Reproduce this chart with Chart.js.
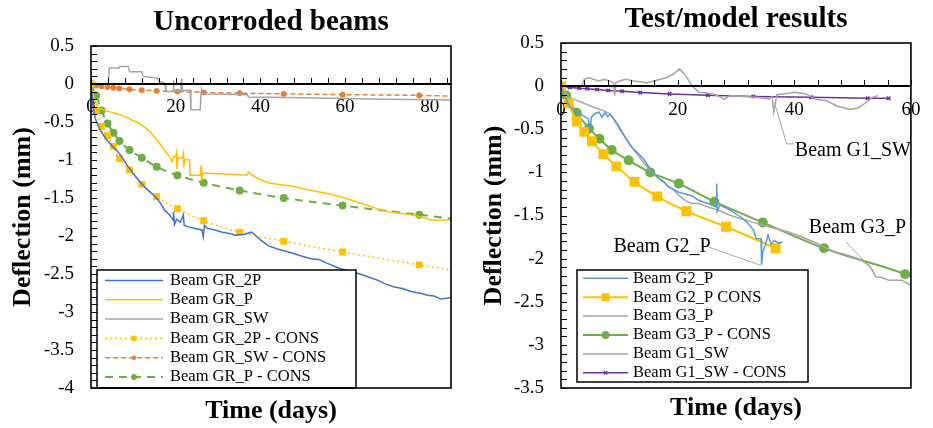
<!DOCTYPE html>
<html>
<head>
<meta charset="utf-8">
<script src="https://cdn.jsdelivr.net/npm/chart.js@4.4.1/dist/chart.umd.min.js"></script>
<style>
  html, body { margin: 0; padding: 0; background: #fff; }
  #wrap { position: relative; width: 933px; height: 428px; }
  canvas { position: absolute; top: 0; }
  #left { left: 0; }
  #right { left: 466px; }
  .tk { position: absolute; background: #000; z-index: 3; pointer-events: none; }
</style>
</head>
<body>
<div id="wrap">
  <canvas id="left" width="466" height="428"></canvas>
  <canvas id="right" width="467" height="428"></canvas>
</div>
<script>
// ---- left panel: uncorroded beams ----
const gr2pDays = [0, 0.5, 1, 2.1, 3.5, 5.2, 6.5, 7.5, 8.8, 10.3, 11.9, 13.5, 15.1, 16.3, 17.4, 18.5, 19.4, 19.5, 19.7, 20.2, 21.1, 21.8, 22, 23, 24.5, 26.2, 26.5, 26.8, 27.5, 29.3, 31, 33, 34, 36, 37.9, 39, 40, 41.9, 44, 46, 47.9, 50, 52, 53.8, 55.8, 58.9, 61, 62.9, 65, 67.6, 69.5, 71.6, 73.5, 75.5, 77.5, 79.5, 81, 82.6, 84, 85];
const gr2pDefl = [0, -0.3, -0.45, -0.6, -0.72, -0.83, -0.9, -0.98, -1.09, -1.2, -1.31, -1.4, -1.48, -1.56, -1.66, -1.72, -1.79, -1.68, -1.85, -1.78, -1.82, -1.72, -1.86, -1.88, -1.9, -1.92, -2.01, -1.86, -1.9, -1.92, -1.95, -1.97, -1.99, -1.98, -1.95, -2.0, -2.05, -2.13, -2.17, -2.2, -2.23, -2.27, -2.3, -2.31, -2.36, -2.43, -2.46, -2.49, -2.53, -2.58, -2.63, -2.67, -2.69, -2.73, -2.75, -2.78, -2.79, -2.83, -2.82, -2.81];

const grpDays = [0, 0.3, 1, 1.7, 3, 4, 5.5, 7.2, 8.5, 9.5, 10.8, 11.9, 13.2, 14.3, 15.3, 16.2, 17.2, 18.2, 19.2, 19.4, 20, 20.2, 20.3, 20.5, 21.6, 21.8, 21.9, 22.2, 23.3, 23.4, 25.8, 26, 26.1, 26.4, 30, 34, 36.8, 37.2, 38.4, 40, 41.9, 44, 47.9, 52, 55.8, 58, 61, 63.7, 67, 70, 73, 75.5, 78, 80.2, 83, 85];
const grpDefl = [0, -0.12, -0.22, -0.32, -0.34, -0.36, -0.38, -0.41, -0.44, -0.47, -0.5, -0.54, -0.59, -0.65, -0.72, -0.78, -0.86, -0.93, -1.02, -0.96, -0.95, -0.9, -1.12, -0.97, -0.97, -0.92, -1.09, -0.99, -1.0, -1.2, -1.2, -1.07, -1.28, -1.17, -1.18, -1.19, -1.2, -1.16, -1.21, -1.26, -1.3, -1.32, -1.35, -1.4, -1.44, -1.47, -1.52, -1.57, -1.63, -1.68, -1.7, -1.72, -1.75, -1.79, -1.79, -1.79];

const grswDays = [0, 4.1, 4.3, 6.6, 6.8, 8.8, 9.1, 12, 12.3, 15.5, 16.3, 17.5, 17.7, 19.4, 19.5, 19.6, 21.2, 21.4, 21.6, 23.4, 23.6, 25.8, 26, 26.1, 26.3, 36.9, 37.2, 50, 60, 70, 85];
const grswDefl = [0, 0, 0.21, 0.21, 0.23, 0.23, 0.16, 0.16, 0.1, 0.08, 0.03, 0.01, -0.1, -0.1, 0.05, -0.1, -0.08, 0.07, -0.09, -0.08, -0.34, -0.34, -0.12, -0.08, -0.13, -0.14, -0.17, -0.18, -0.19, -0.2, -0.21];

const leftConsDays = [0, 1.2, 2.5, 3.9, 5.3, 6.7, 9.1, 12, 15.5, 20.4, 26.6, 35.1, 45.5, 59.4, 77.5, 85];
const gr2pConsDefl = [0, -0.35, -0.56, -0.68, -0.82, -0.98, -1.13, -1.32, -1.48, -1.64, -1.8, -1.95, -2.07, -2.21, -2.38, -2.45];
const grswConsDefl = [0, -0.02, -0.03, -0.04, -0.05, -0.06, -0.07, -0.08, -0.09, -0.1, -0.11, -0.12, -0.13, -0.14, -0.15, -0.16];
const grpConsDefl = [0, -0.15, -0.35, -0.52, -0.64, -0.75, -0.87, -0.97, -1.09, -1.2, -1.3, -1.4, -1.5, -1.6, -1.72, -1.77];

// ---- right panel: test/model results ----
const g2pDays = [0, 0.7, 1.4, 2.2, 3, 4, 4.7, 5, 5.2, 5.8, 6.5, 7, 7.5, 8, 8.5, 9, 9.4, 10.1, 10.8, 11.6, 12.4, 13.2, 14.1, 14.9, 15.7, 16.3, 16.9, 17.7, 18.5, 19.3, 20.2, 21.3, 22.4, 23.5, 24.6, 25.7, 26.6, 26.7, 26.8, 27.2, 28.5, 29.1, 30.4, 31.3, 32.2, 33, 33.5, 34.3, 34.4, 34.6, 35, 35.5, 36, 36.6, 37.3, 38];
const g2pDefl = [0, -0.12, -0.23, -0.28, -0.32, -0.35, -0.38, -0.55, -0.36, -0.32, -0.3, -0.36, -0.31, -0.35, -0.33, -0.38, -0.42, -0.5, -0.57, -0.66, -0.73, -0.78, -0.84, -0.92, -1.0, -1.03, -1.08, -1.12, -1.17, -1.2, -1.23, -1.25, -1.27, -1.32, -1.35, -1.37, -1.4, -1.13, -1.45, -1.38, -1.42, -1.44, -1.5, -1.54, -1.6, -1.67, -1.77, -1.77, -2.07, -1.92, -1.85, -1.73, -1.83, -1.79, -1.82, -1.81];

const g3pDays = [0, 1.4, 2.5, 3.6, 4.7, 5.8, 7.5, 8.3, 9.1, 10, 10.8, 11.6, 12.4, 13.2, 14.1, 14.9, 15.7, 16.5, 17.4, 18.2, 19.1, 20, 21, 21.7, 22.4, 23.6, 25.1, 27, 29.1, 31, 33, 34.6, 36.8, 39, 41, 43.5, 45, 46.8, 48.5, 50.1, 51.5, 52.9, 53.5, 54, 55, 56.2, 58.4, 59.2, 60];
const g3pDefl = [0, -0.13, -0.16, -0.19, -0.22, -0.25, -0.29, -0.32, -0.38, -0.47, -0.57, -0.65, -0.73, -0.8, -0.88, -0.95, -1.0, -1.06, -1.09, -1.15, -1.19, -1.25, -1.31, -1.34, -1.36, -1.36, -1.4, -1.44, -1.5, -1.54, -1.58, -1.61, -1.65, -1.69, -1.74, -1.81, -1.86, -1.92, -1.95, -1.98, -2.02, -2.08, -2.15, -2.21, -2.22, -2.25, -2.25, -2.28, -2.31];

const g1swDays = [0, 3.5, 4, 4.8, 5.5, 6.5, 7.5, 9, 9.2, 9.4, 10, 11, 12.5, 14.8, 16, 18.1, 19.3, 20.3, 21.4, 22.5, 23.6, 25, 26.5, 28, 29, 31, 33.5, 35.7, 36.2, 36.5, 37, 38, 40.2, 42, 43.5, 45.5, 47.3, 49.6, 51, 52.3, 53.4, 54.3];
const g1swDefl = [0, 0, 0.08, 0.1, 0.08, 0.06, 0.08, 0.04, -0.11, 0.04, 0.06, 0.08, 0.06, 0.04, 0.06, 0.1, 0.14, 0.2, 0.12, 0, -0.07, -0.08, -0.1, -0.15, -0.11, -0.12, -0.13, -0.15, -0.12, -0.3, -0.1, -0.09, -0.07, -0.09, -0.15, -0.17, -0.23, -0.27, -0.25, -0.19, -0.13, -0.11];

const g2pConsDays = [0, 1.3, 2.7, 4.0, 5.3, 7.3, 9.5, 12.6, 16.5, 21.5, 28.3, 36.8];
const g2pConsDefl = [0, -0.2, -0.41, -0.53, -0.64, -0.79, -0.93, -1.11, -1.28, -1.45, -1.63, -1.88];
const g3pConsDays = [0, 0.9, 2.7, 4.8, 6.6, 8.7, 11.6, 15.3, 20.2, 26.3, 34.6, 45.1, 59.0, 60];
const g3pConsDefl = [0, -0.11, -0.31, -0.49, -0.61, -0.74, -0.86, -1.0, -1.13, -1.34, -1.58, -1.88, -2.18, -2.21];
const g1swConsDays = [0, 1.5, 3.1, 4.5, 6.2, 8.1, 10.5, 13.6, 18.6, 25.2, 33, 42.9, 52.6, 56.2];
const g1swConsDefl = [0, -0.015, -0.025, -0.03, -0.04, -0.05, -0.06, -0.075, -0.09, -0.105, -0.12, -0.13, -0.14, -0.14];

// callout labels on the right panel
const noteText = ['Beam G1_SW', 'Beam G3_P', 'Beam G2_P'];
const noteDay = [40.1, 42.5, 9.0];
const noteDefl = [-0.75, -1.64, -1.86];
const leaderDays = [[36.6, 38.7, 40.0], [48.9, 53.6], [24.7, 34.3]];
const leaderDefl = [[-0.19, -0.67, -0.67], [-1.81, -2.14], [-1.85, -2.08]];

const SERIF = "'Liberation Serif', 'Times New Roman', serif";
Chart.defaults.font.family = SERIF;
Chart.defaults.color = '#000';

function pts(xs, ys) {
  return xs.map((x, i) => ({ x: x, y: ys[i] }));
}
// markers everywhere except the last (curve end) point
function radii(n, r, lastOff) {
  return Array.from({ length: n }, (_, i) => (lastOff && i === n - 1 ? 0 : r));
}

function marker(ctx, style, x, y, r, color) {
  ctx.save();
  ctx.fillStyle = color;
  ctx.strokeStyle = color;
  ctx.lineWidth = 1.2;
  ctx.beginPath();
  if (style === 'rect') {
    const s = r / Math.SQRT2;
    ctx.rect(x - s, y - s, 2 * s, 2 * s);
    ctx.fill();
  } else if (style === 'crossRot') {
    const d = r * Math.SQRT1_2;
    ctx.moveTo(x - d, y - d); ctx.lineTo(x + d, y + d);
    ctx.moveTo(x - d, y + d); ctx.lineTo(x + d, y - d);
    ctx.stroke();
  } else {
    ctx.arc(x, y, r, 0, Math.PI * 2);
    ctx.fill();
  }
  ctx.restore();
}

// boxed legend inside the plot
const boxLegend = {
  id: 'boxLegend',
  afterDatasetsDraw(chart, args, o) {
    const ctx = chart.ctx;
    ctx.save();
    ctx.fillStyle = '#fff';
    ctx.fillRect(o.left, o.top, o.width, o.height);
    ctx.strokeStyle = '#000';
    ctx.lineWidth = 1.5;
    ctx.strokeRect(o.left, o.top, o.width, o.height);
    chart.data.datasets.forEach((ds, i) => {
      const yy = o.firstRow + i * o.rowStep;
      ctx.setLineDash(ds.borderDash || []);
      ctx.strokeStyle = ds.borderColor;
      ctx.lineWidth = ds.borderWidth;
      ctx.beginPath();
      ctx.moveTo(o.lineFrom, yy);
      ctx.lineTo(o.lineTo, yy);
      ctx.stroke();
      ctx.setLineDash([]);
      const r = Array.isArray(ds.pointRadius) ? Math.max(...ds.pointRadius) : (ds.pointRadius || 0);
      if (r > 0) marker(ctx, ds.pointStyle, (o.lineFrom + o.lineTo) / 2, yy, r, ds.borderColor);
      ctx.fillStyle = '#000';
      ctx.font = o.font;
      ctx.textAlign = 'left';
      ctx.textBaseline = 'middle';
      ctx.fillText(ds.label, o.textX, yy);
    });
    ctx.restore();
  }
};

// text labels with grey leader lines
const callouts = {
  id: 'callouts',
  afterDatasetsDraw(chart, args, o) {
    if (!o.text) return;
    const ctx = chart.ctx, x = chart.scales.x, y = chart.scales.y;
    ctx.save();
    ctx.strokeStyle = '#A5A5A5';
    ctx.lineWidth = 1;
    o.lineX.forEach((xs, i) => {
      ctx.beginPath();
      xs.forEach((d, j) => {
        const px = x.getPixelForValue(d), py = y.getPixelForValue(o.lineY[i][j]);
        if (j === 0) ctx.moveTo(px, py); else ctx.lineTo(px, py);
      });
      ctx.stroke();
    });
    ctx.fillStyle = '#000';
    ctx.font = o.font;
    ctx.textAlign = 'left';
    ctx.textBaseline = 'middle';
    o.text.forEach((t, i) => {
      ctx.fillText(t, x.getPixelForValue(o.x[i]), y.getPixelForValue(o.y[i]));
    });
    ctx.restore();
  }
};

// frame round the plot
const frame = {
  id: 'frame',
  afterDraw(chart) {
    const { ctx, chartArea: a } = chart;
    ctx.save();
    ctx.setLineDash([]);
    ctx.strokeStyle = '#000';
    ctx.lineWidth = 1.6;
    ctx.strokeRect(a.left, a.top, a.right - a.left, a.bottom - a.top);
    ctx.restore();
  }
};

// zero axis line and small inward ticks, placed from the chart's own scales
function addAxisMarks(chart, offsetX) {
  const wrap = document.getElementById('wrap');
  const x = chart.scales.x, y = chart.scales.y, a = chart.chartArea;
  const xStep = 4, yStep = 0.1, len = 6;
  const y0 = Math.round(y.getPixelForValue(0));
  const mk = (l, t, w, h) => {
    const d = document.createElement('div');
    d.className = 'tk';
    d.style.left = l + 'px';
    d.style.top = t + 'px';
    d.style.width = w + 'px';
    d.style.height = h + 'px';
    wrap.appendChild(d);
  };
  mk(offsetX + Math.round(a.left), y0 - 1, Math.round(a.right - a.left), 2);
  for (let k = 0; k * xStep <= x.max - x.min + 1e-9; k++) {
    const px = Math.round(x.getPixelForValue(x.min + k * xStep));
    mk(offsetX + px, y0 - len, 1, len);
  }
  for (let k = 0; k * yStep <= y.max - y.min + 1e-9; k++) {
    const py = Math.round(y.getPixelForValue(y.min + k * yStep));
    mk(offsetX + Math.round(a.left), py, len, 1);
  }
}

function panelOptions(p) {
  return {
    responsive: false,
    animation: false,
    events: [],
    layout: { padding: { left: 0, top: 0, right: p.padRight, bottom: 0 } },
    elements: { line: { tension: 0 } },
    scales: {
      x: {
        type: 'linear',
        position: { y: 0 },
        min: 0,
        max: p.xMax,
        grid: { display: false, drawTicks: false },
        border: { display: true, color: '#000', width: 1.5 },
        ticks: {
          stepSize: 20,
          includeBounds: false,
          autoSkip: false,
          maxRotation: 0,
          padding: p.xLabelPad,
          font: { size: 19 },
          color: '#000',
          callback: (v) => (v % 20 === 0 ? String(v) : '')
        }
      },
      xb: {
        type: 'linear',
        position: 'bottom',
        min: 0,
        max: p.xMax,
        grid: { display: false, drawTicks: false },
        border: { display: false },
        ticks: { display: false },
        title: {
          display: true,
          text: 'Time (days)',
          font: { size: 26, weight: 'bold' },
          color: '#000',
          padding: { top: 0, bottom: p.xTitlePad }
        },
        afterFit: (s) => { s.height = 40; }
      },
      y: {
        type: 'linear',
        min: p.yMin,
        max: 0.5,
        grid: { display: false, drawTicks: false },
        border: { display: false },
        ticks: {
          stepSize: 0.5,
          padding: 17,
          font: { size: 19 },
          color: '#000',
          callback: (v) => String(Math.round(v * 10) / 10)
        },
        title: {
          display: true,
          text: 'Deflection (mm)',
          font: { size: 26, weight: 'bold' },
          color: '#000',
          padding: { top: p.yTitlePad, bottom: 0 }
        },
        afterFit: (s) => { s.width = p.yWidth; }
      }
    },
    plugins: {
      legend: { display: false },
      tooltip: { enabled: false },
      title: {
        display: true,
        text: p.title,
        fullSize: false,
        color: '#000',
        font: { size: 29, weight: 'bold' },
        padding: { top: p.titleTop, bottom: 5.6 }
      },
      boxLegend: p.legend,
      callouts: p.notes || {}
    }
  };
}

function line(label, xs, ys, color, extra) {
  return Object.assign({
    label: label,
    data: pts(xs, ys),
    borderColor: color,
    backgroundColor: color,
    borderWidth: 1.5,
    pointRadius: 0,
    xAxisID: 'x',
    yAxisID: 'y'
  }, extra || {});
}

const n = leftConsDays.length;
const leftChart = new Chart(document.getElementById('left'), {
  type: 'line',
  data: {
    datasets: [
      line('Beam GR_2P', gr2pDays, gr2pDefl, '#4472C4'),
      line('Beam GR_P', grpDays, grpDefl, '#FFC000'),
      line('Beam GR_SW', grswDays, grswDefl, '#A5A5A5'),
      line('Beam GR_2P - CONS', leftConsDays, gr2pConsDefl, '#FFC000', {
        borderDash: [2, 3], pointStyle: 'rect', pointRadius: radii(n, 3.8, true), cubicInterpolationMode: 'monotone'
      }),
      line('Beam GR_SW - CONS', leftConsDays, grswConsDefl, '#ED7D31', {
        borderDash: [5, 3], pointStyle: 'circle', pointRadius: radii(n, 2.2, true), cubicInterpolationMode: 'monotone'
      }),
      line('Beam GR_P - CONS', leftConsDays, grpConsDefl, '#70AD47', {
        borderWidth: 2, borderDash: [8, 6], pointStyle: 'circle', pointRadius: radii(n, 3, true), cubicInterpolationMode: 'monotone'
      })
    ]
  },
  options: panelOptions({
    title: 'Uncorroded beams', titleTop: 5.6, xMax: 85, yMin: -4, yWidth: 91, padRight: 15,
    xLabelPad: 11.6, xTitlePad: 1.4, yTitlePad: 7.4,
    legend: { left: 97, top: 270, width: 259, height: 118, firstRow: 280.5, rowStep: 19.3, lineFrom: 105, lineTo: 163, textX: 170, font: '16.5px ' + SERIF }
  }),
  plugins: [boxLegend, callouts, frame]
});

const rightChart = new Chart(document.getElementById('right'), {
  type: 'line',
  data: {
    datasets: [
      line('Beam G2_P', g2pDays, g2pDefl, '#5B9BD5'),
      line('Beam G2_P CONS', g2pConsDays, g2pConsDefl, '#FFC000', {
        borderWidth: 2, pointStyle: 'rect', pointRadius: 5.6, cubicInterpolationMode: 'monotone'
      }),
      line('Beam G3_P', g3pDays, g3pDefl, '#A5A5A5'),
      line('Beam G3_P - CONS', g3pConsDays, g3pConsDefl, '#70AD47', {
        borderWidth: 2, pointStyle: 'circle', pointRadius: radii(g3pConsDays.length, 4, true), cubicInterpolationMode: 'monotone'
      }),
      line('Beam G1_SW', g1swDays, g1swDefl, '#A5A5A5'),
      line('Beam G1_SW - CONS', g1swConsDays, g1swConsDefl, '#7030A0', {
        pointStyle: 'crossRot', pointRadius: 2.5
      })
    ]
  },
  options: panelOptions({
    title: 'Test/model results', titleTop: 2.6, xMax: 60, yMin: -3.5, yWidth: 95, padRight: 10,
    xLabelPad: 12.6, xTitlePad: 4.4, yTitlePad: 12.4,
    legend: { left: 111, top: 270, width: 231, height: 112, firstRow: 278.3, rowStep: 18.9, lineFrom: 117, lineTo: 162, textX: 167, font: '16.5px ' + SERIF },
    notes: { text: noteText, x: noteDay, y: noteDefl, lineX: leaderDays, lineY: leaderDefl, font: '20px ' + SERIF }
  }),
  plugins: [boxLegend, callouts, frame]
});

addAxisMarks(leftChart, 0);
addAxisMarks(rightChart, 466);
</script>
</body>
</html>
